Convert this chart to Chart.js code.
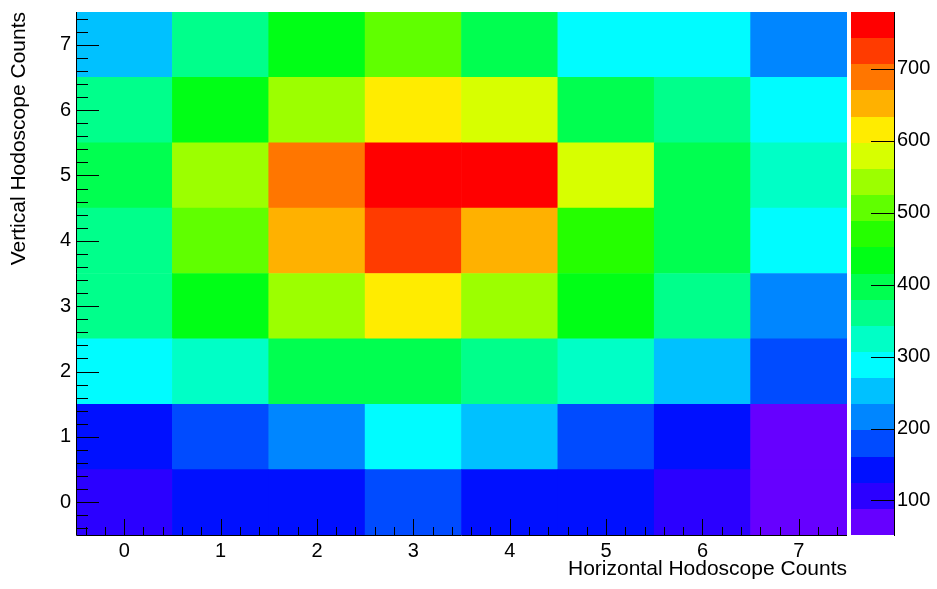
<!DOCTYPE html>
<html>
<head>
<meta charset="utf-8">
<title>Hodoscope hit map</title>
<script src="https://cdn.jsdelivr.net/npm/chart.js@4.4.1/dist/chart.umd.min.js"></script>
<style>
  html, body { margin: 0; padding: 0; background: #ffffff; }
  canvas { display: block; }
</style>
</head>
<body>
<canvas id="map" width="937" height="589"></canvas>
<script>
// Bin centres of the two hodoscope planes
const horizontalBins = [0, 1, 2, 3, 4, 5, 6, 7];
const verticalBins = [0, 1, 2, 3, 4, 5, 6, 7];

// Coincidence counts, one array per vertical bin (index = horizontal bin)
const vert0 = [96, 139, 147, 183, 131, 152, 104, 61];
const vert1 = [141, 190, 221, 296, 247, 176, 136, 52];
const vert2 = [291, 322, 398, 401, 366, 318, 255, 172];
const vert3 = [364, 428, 538, 612, 547, 425, 357, 211];
const vert4 = [359, 503, 655, 731, 648, 462, 392, 284];
const vert5 = [401, 549, 694, 779, 766, 583, 405, 318];
const vert6 = [368, 430, 545, 618, 585, 396, 356, 283];
const vert7 = [246, 353, 431, 510, 394, 279, 281, 214];
const countRows = [vert0, vert1, vert2, vert3, vert4, vert5, vert6, vert7];

// Labelled ticks of the colour scale
const zTicks = [100, 200, 300, 400, 500, 600, 700];

const N_CONTOURS = 20;
const allCounts = countRows.flat();
const zMin = Math.min(...allCounts);
const zMax = Math.max(...allCounts);
const zStep = (zMax - zMin) / N_CONTOURS;

// Rainbow palette, violet (low) to red (high)
function paletteColor(k) {
  const hue = 264 - k * 264 / (N_CONTOURS - 1);
  return `hsl(${hue.toFixed(1)}, 100%, 50%)`;
}
function colorFor(v) {
  let k = Math.floor((v - zMin) / zStep);
  if (k >= N_CONTOURS) k = N_CONTOURS - 1;
  if (k < 0) k = 0;
  return paletteColor(k);
}

const FONT = "'Liberation Sans', Arial, Helvetica, sans-serif";

// Inward ticks, axis lines and the colour bar
const frameAndPalette = {
  id: 'frameAndPalette',
  afterDatasetsDraw(chart) {
    const {ctx, chartArea: a, scales} = chart;
    const xs = scales.x, ys = scales.y, zs = scales.z;
    ctx.save();
    ctx.strokeStyle = '#000';
    ctx.lineWidth = 1;
    ctx.beginPath();
    // x axis ticks: every 0.2, integers long
    for (let k = -2; k <= 37; k++) {
      const v = k / 5;
      const px = Math.round(xs.getPixelForValue(v)) + 0.5;
      const len = (k % 5 === 0) ? 16 : 8;
      ctx.moveTo(px, a.bottom);
      ctx.lineTo(px, a.bottom - len);
    }
    // y axis ticks
    for (let k = -2; k <= 37; k++) {
      const v = k / 5;
      const py = Math.round(ys.getPixelForValue(v)) + 0.5;
      const len = (k % 5 === 0) ? 23 : 12;
      ctx.moveTo(a.left, py);
      ctx.lineTo(a.left + len, py);
    }
    ctx.stroke();
    // axis lines
    ctx.beginPath();
    ctx.moveTo(a.left + 0.5, a.top);
    ctx.lineTo(a.left + 0.5, a.bottom + 0.5);
    ctx.lineTo(a.right, a.bottom + 0.5);
    ctx.stroke();

    // colour bar
    const barL = a.right + 4, barR = a.right + 47;
    for (let k = 0; k < N_CONTOURS; k++) {
      const yLo = zs.getPixelForValue(zMin + k * zStep);
      const yHi = zs.getPixelForValue(zMin + (k + 1) * zStep);
      ctx.fillStyle = paletteColor(k);
      ctx.fillRect(barL, Math.round(yHi), barR - barL, Math.round(yLo) - Math.round(yHi));
    }
    ctx.beginPath();
    ctx.moveTo(barR + 0.5, a.top);
    ctx.lineTo(barR + 0.5, a.bottom + 1);
    zTicks.forEach(t => {
      const py = Math.round(zs.getPixelForValue(t)) + 0.5;
      ctx.moveTo(barR, py);
      ctx.lineTo(barR - 23, py);
    });
    ctx.stroke();
    ctx.restore();
  }
};

const datasets = verticalBins.map((yv, r) => ({
  label: 'V' + yv,
  data: horizontalBins.map(xv => ({x: xv, y: [yv - 0.5, yv + 0.5]})),
  backgroundColor: countRows[r].map(colorFor),
  borderWidth: 0,
  borderSkipped: false,
  grouped: false,
  barPercentage: 1,
  categoryPercentage: 1
}));

new Chart(document.getElementById('map'), {
  type: 'bar',
  data: { datasets },
  options: {
    responsive: false,
    animation: false,
    devicePixelRatio: 1,
    layout: { padding: { top: 12, left: 0, right: 0, bottom: 0 } },
    plugins: { legend: { display: false }, tooltip: { enabled: false } },
    scales: {
      x: {
        type: 'linear',
        position: 'bottom',
        offset: false,
        min: -0.5,
        max: 7.5,
        afterBuildTicks: s => { s.ticks = horizontalBins.map(v => ({value: v})); },
        afterFit: s => { s.height = 54; },
        grid: { display: false, drawTicks: false, offset: false },
        border: { display: false },
        ticks: { color: '#000', padding: 4, maxRotation: 0, font: { family: FONT, size: 20, lineHeight: 1.2 }, callback: v => String(v) },
        title: {
          display: true, text: 'Horizontal Hodoscope Counts', align: 'end', color: '#000',
          font: { family: FONT, size: 21, lineHeight: 1.2 }, padding: { top: 0, bottom: 7 }
        }
      },
      y: {
        type: 'linear',
        position: 'left',
        min: -0.5,
        max: 7.5,
        afterBuildTicks: s => { s.ticks = verticalBins.map(v => ({value: v})); },
        afterFit: s => { s.width = 76; },
        grid: { display: false, drawTicks: true, tickLength: 5 },
        border: { display: false },
        ticks: { color: '#000', padding: 0, font: { family: FONT, size: 20, lineHeight: 1.2 }, callback: v => String(v) },
        title: {
          display: true, text: 'Vertical Hodoscope Counts', align: 'end', color: '#000',
          font: { family: FONT, size: 21, lineHeight: 1.2 }, padding: { top: 7, bottom: 0 }
        }
      },
      z: {
        type: 'linear',
        position: 'right',
        min: zMin,
        max: zMax,
        afterBuildTicks: s => { s.ticks = zTicks.map(v => ({value: v})); },
        afterFit: s => { s.width = 90; },
        grid: { display: false, drawTicks: true, tickLength: 50 },
        border: { display: false },
        ticks: { color: '#000', padding: 0, font: { family: FONT, size: 20, lineHeight: 1.2 }, callback: v => String(v) }
      }
    }
  },
  plugins: [frameAndPalette]
});
</script>
</body>
</html>
